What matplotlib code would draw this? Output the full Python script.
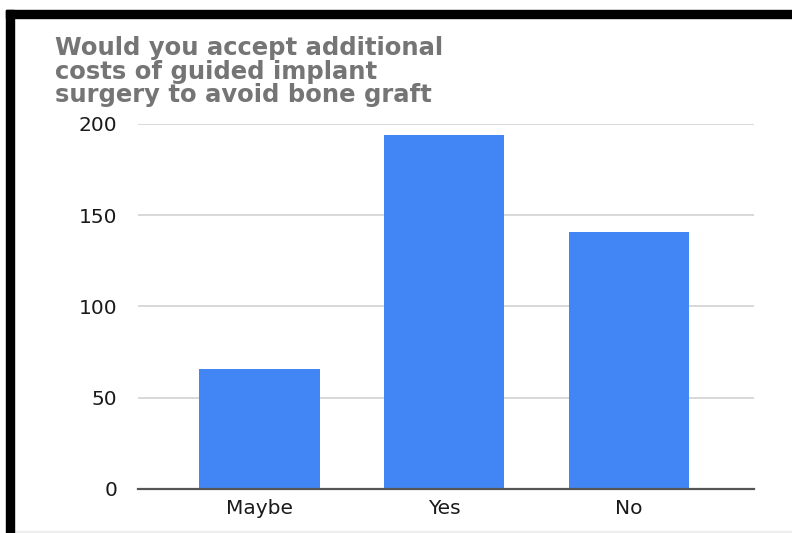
import matplotlib.pyplot as plt
from matplotlib.patches import Rectangle

categories = ['Maybe', 'Yes', 'No']
responses = [66, 194, 141]
y_ticks = [0, 50, 100, 150, 200]
title = 'Would you accept additional\ncosts of guided implant\nsurgery to avoid bone graft'

bar_color = '#4285F4'

fig = plt.figure(figsize=(7.92, 5.33), dpi=100)
fig.patch.set_facecolor('white')

ax = fig.add_axes([0.1742, 0.0826, 0.7778, 0.6848])
ax.bar(range(len(categories)), responses, width=0.65, color=bar_color, zorder=3)

ax.set_xlim(-0.658, 2.677)
ax.set_ylim(0, 200)
ax.set_yticks(y_ticks)
ax.set_yticklabels([str(v) for v in y_ticks])
ax.set_xticks(range(len(categories)))
ax.set_xticklabels(categories)

for v in y_ticks[1:]:
    ax.axhline(v, color='#d6d6d6', lw=1.3, zorder=1)
ax.axhline(0, color='#555555', lw=1.6, zorder=4, clip_on=False)

for s in ax.spines.values():
    s.set_visible(False)
ax.tick_params(axis='both', length=0, labelsize=14.5, labelcolor='#1a1a1a')
ax.tick_params(axis='y', pad=15)
ax.tick_params(axis='x', pad=7)

fig.text(0.069, 0.932, title, ha='left', va='top', fontsize=17.5,
         fontweight='bold', color='#757575', linespacing=0.97)

# black frame around the screenshot (top and left edges)
fig.patches.append(Rectangle((6 / 792, 1 - 18 / 533), 1, 8 / 533,
                             transform=fig.transFigure, color='black', zorder=10))
fig.patches.append(Rectangle((6 / 792, 0), 8 / 792, 1 - 10 / 533,
                             transform=fig.transFigure, color='black', zorder=10))
fig.patches.append(Rectangle((14 / 792, 0), 1, 2 / 533,
                             transform=fig.transFigure, color='#eeeeee', zorder=9))

fig.savefig('out.png', dpi=100, facecolor='white')
